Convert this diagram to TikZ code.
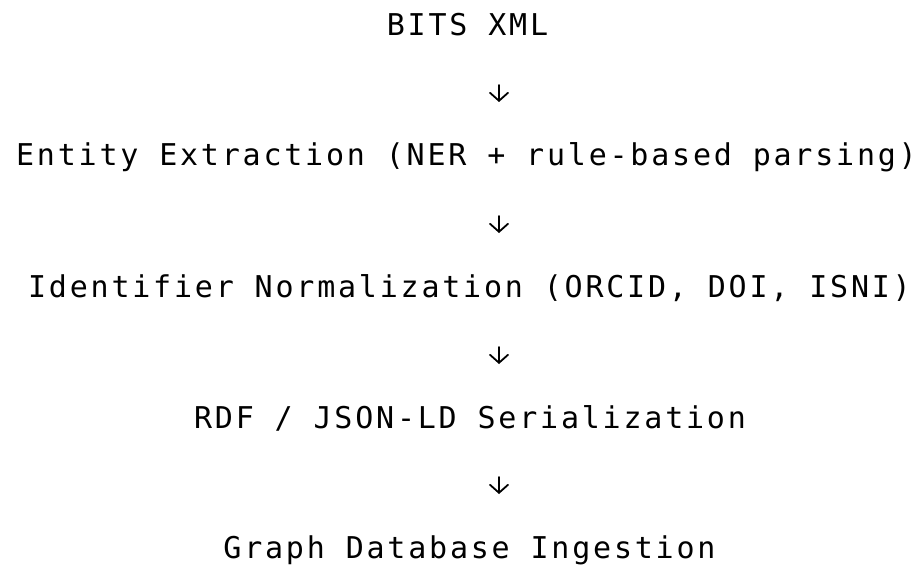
\documentclass[tikz,border=0pt]{standalone}
\usepackage{fontspec}
\usetikzlibrary{arrows.meta}
% letter-spaced monospace face for the pipeline steps
\newfontfamily\flowfont{DejaVu Sans Mono}[LetterSpace=9.3]
\begin{document}
\begin{tikzpicture}[x=1pt,y=-1pt,
  stage/.style={inner sep=0pt, anchor=base, font=\flowfont\fontsize{30}{32}\selectfont, text=black},
  flowline/.style={line width=1.8pt, line cap=round, black,
    -{Straight Barb[length=8pt, width=18pt, line cap=round]}}]
  \useasboundingbox[fill=white] (0,0) rectangle (924,567);

  \node[stage] (bits)   at (467.5,36)  {BITS XML};
  \node[stage] (entity) at (466.5,166) {Entity Extraction (NER + rule-based parsing)};
  \node[stage] (ident)  at (469.5,297) {Identifier Normalization (ORCID, DOI, ISNI)};
  \node[stage] (rdf)    at (470,428)   {RDF / JSON-LD Serialization};
  \node[stage] (graph)  at (469.5,558) {Graph Database Ingestion};

  % short downward arrows between the stages
  \coordinate (t1) at (499,85);  \coordinate (b1) at (499,102);
  \coordinate (t2) at (499,216); \coordinate (b2) at (499,233);
  \coordinate (t3) at (499,347); \coordinate (b3) at (499,364);
  \coordinate (t4) at (499,477); \coordinate (b4) at (499,494);
  \draw[flowline] (t1) -- (b1);
  \draw[flowline] (t2) -- (b2);
  \draw[flowline] (t3) -- (b3);
  \draw[flowline] (t4) -- (b4);
\end{tikzpicture}
\end{document}
